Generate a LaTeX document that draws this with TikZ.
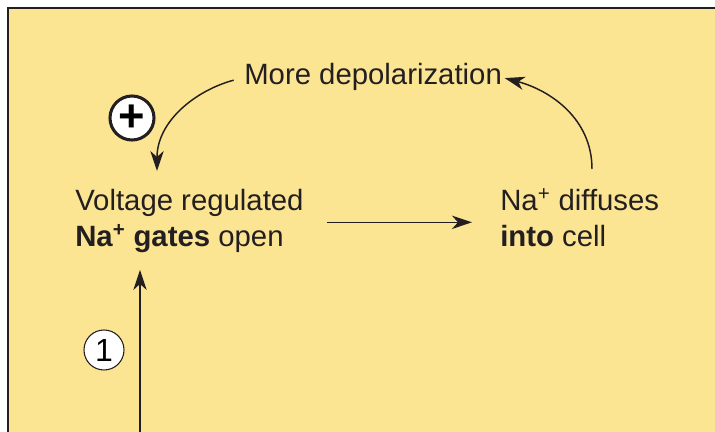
\documentclass[tikz,border=0pt]{standalone}
\usepackage{fontspec}
\setmainfont{Liberation Sans}
\usetikzlibrary{arrows.meta}
\definecolor{panel}{RGB}{251,228,146}
\definecolor{ink}{RGB}{35,31,32}
\tikzset{
  label/.style={inner sep=0pt,text=ink,align=left,font=\fontsize{22}{27}\selectfont},
  arr/.style={draw=ink,line width=1.1pt,-{Stealth[length=15pt,width=10pt,inset=4.5pt]}},
  stepnum/.style={circle,draw=ink,line width=0.8pt,fill=white,inner sep=0pt,minimum size=30pt,font=\fontsize{24}{24}\selectfont},
  plusmark/.style={circle,draw=ink,line width=2.3pt,fill=white,inner sep=0pt,minimum size=33pt,font=\fontsize{34}{34}\selectfont\bfseries}
}
\begin{document}
\begin{tikzpicture}[x=0.75pt,y=0.75pt]
  \useasboundingbox (0,0) rectangle (715,432);
  \fill[panel] (8,0) rectangle (715,424);
  \draw[ink,line width=2pt] (8,0) -- (8,424) -- (715,424);

  \node[label,anchor=base west] (more) at (244,347) {More depolarization};
  \node[label,anchor=north west] (gates) at (75,244)
    {Voltage regulated\vphantom{Na\textsuperscript{+}}\\\textbf{Na\textsuperscript{+} gates} open};
  \node[label,anchor=north west] (diff) at (500,244)
    {Na\textsuperscript{+} diffuses\\\textbf{into} cell};

  \node[plusmark] (pos) at (132,314) {+};
  \node[stepnum] (one) at (104,82) {1};
  \coordinate (stim) at (140,0);

  \draw[arr] (gates.east) ++(23,-2) -- ([yshift=-1.5pt]gates.east -| diff.west) [shorten >=21pt];
  \draw[arr,shorten >=13pt] (stim) -- (stim |- gates.south);
  \draw[arr,shorten <=8pt] (more.west) to[out=195,in=90] ([shift={(82,17)}]gates.north west);
  \draw[arr,shorten >=2pt] ([shift={(92,19)}]diff.north west) to[out=90,in=-15] (more.east);
\end{tikzpicture}
\end{document}
